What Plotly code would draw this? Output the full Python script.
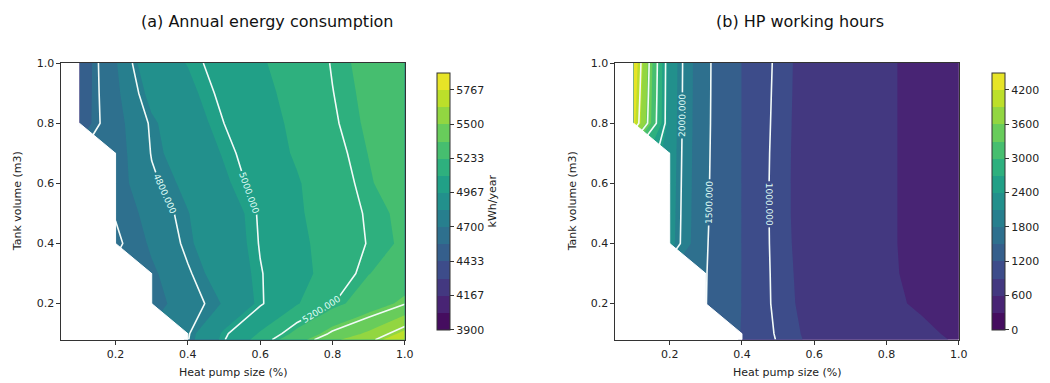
import math
import numpy as np
import plotly.graph_objects as go
from plotly.colors import sample_colorscale

# ---------------- data ----------------
heat_pump_size = [0.1, 0.2, 0.3, 0.4, 0.5, 0.6, 0.7, 0.8, 0.9, 1.0]
tank_volume = [0.08, 0.1, 0.2, 0.3, 0.4, 0.5, 0.6, 0.7, 0.8, 0.9, 1.0]

N = None
# rows follow tank_volume, columns follow heat_pump_size
energy_kwh = [
    [N, N, N, 4795, 4995, 5140, 5320, 5480, 5570, 5730],
    [N, N, N, 4790, 4985, 5110, 5260, 5420, 5520, 5665],
    [N, N, 4650, 4765, 4840, 4990, 5090, 5195, 5300, 5395],
    [N, N, 4680, 4790, 4880, 4995, 5060, 5145, 5230, 5290],
    [N, 4570, 4720, 4820, 4900, 5005, 5075, 5140, 5205, 5245],
    [N, 4610, 4750, 4830, 4910, 5010, 5085, 5150, 5210, 5250],
    [N, 4650, 4785, 4855, 4950, 5035, 5090, 5160, 5225, 5280],
    [N, 4650, 4805, 4890, 4975, 5050, 5110, 5175, 5235, 5290],
    [4520, 4660, 4815, 4920, 5000, 5060, 5120, 5190, 5245, 5300],
    [4510, 4675, 4870, 4945, 5020, 5075, 5130, 5198, 5252, 5305],
    [4500, 4690, 4927, 4970, 5040, 5090, 5140, 5205, 5260, 5310],
]

hp_hours = [
    [N, N, N, 1190, 985, 860, 770, 665, 650, 580],
    [N, N, N, 1192, 975, 855, 765, 660, 640, 560],
    [N, N, 1505, 1195, 950, 845, 750, 640, 570, 500],
    [N, N, 1510, 1195, 945, 840, 745, 630, 545, 480],
    [N, 2200, 1520, 1195, 938, 838, 742, 630, 530, 470],
    [N, 2210, 1530, 1195, 935, 835, 740, 630, 530, 470],
    [N, 2220, 1535, 1195, 935, 835, 738, 630, 530, 470],
    [N, 2230, 1540, 1195, 940, 828, 735, 630, 530, 470],
    [4300, 2240, 1545, 1195, 948, 820, 732, 630, 530, 470],
    [4380, 2245, 1548, 1195, 955, 815, 730, 630, 530, 470],
    [4450, 2250, 1550, 1195, 962, 810, 728, 630, 530, 470],
]

energy_fill_range = [3900, 5900]
energy_bands = 15
energy_line_levels = [4600, 5600, 200]
energy_ticks = [3900, 4166.67, 4433.33, 4700, 4966.67, 5233.33, 5500, 5766.67]

hours_fill_range = [0, 4500]
hours_bands = 15
hours_line_levels = [1000, 4000, 500]
hours_ticks = [0, 600, 1200, 1800, 2400, 3000, 3600, 4200]

x_ticks = [0.2, 0.4, 0.6, 0.8, 1.0]
y_ticks = [0.2, 0.4, 0.6, 0.8, 1.0]

# ---------------- helpers ----------------
W, H = 1050, 383
FONT = "DejaVu Sans"


def band_colors(n):
    # each filled band takes the colour of its mid value (levels span the map)
    return sample_colorscale("Viridis", [(k + 0.5) / n for k in range(n)])


def colorbar_scale(n):
    cols = band_colors(n)
    stops = []
    for k, c in enumerate(cols):
        stops.append([k / n, c])
        stops.append([(k + 1) / n, c])
    return stops


def mask_path(xs, ys, z):
    """White polygons covering grid cells that have missing corners."""
    Z = np.array([[np.nan if v is None else v for v in row] for row in z], float)
    px, py = [], []
    for j in range(len(ys) - 1):
        for i in range(len(xs) - 1):
            corners = [(i, j), (i + 1, j), (i + 1, j + 1), (i, j + 1)]
            bad = [math.isnan(Z[jj, ii]) for ii, jj in corners]
            nb = sum(bad)
            if nb == 0:
                continue
            if nb == 1:
                k = bad.index(True)
                pts = [corners[k], corners[(k + 1) % 4], corners[(k - 1) % 4]]
            else:
                pts = corners
            for ii, jj in pts + [pts[0]]:
                px.append(xs[ii])
                py.append(ys[jj])
            px.append(None)
            py.append(None)
    return px, py


def px2x(p):
    return p / W


def px2y(p):
    return 1 - p / H


panels = [
    dict(z=energy_kwh, rng=energy_fill_range, nb=energy_bands, lines=energy_line_levels,
         ticks=energy_ticks, ax="x", ay="y", left=62, right=409, cbx=432,
         title="(a) Annual energy consumption", title_x=270, cbtitle="kWh/year"),
    dict(z=hp_hours, rng=hours_fill_range, nb=hours_bands, lines=hours_line_levels,
         ticks=hours_ticks, ax="x2", ay="y2", left=622, right=969, cbx=992,
         title="(b) HP working hours", title_x=808, cbtitle=""),
]

TOP, BOT = 58, 339

fig = go.Figure()
annotations = []
layout_axes = {}

for n, p in enumerate(panels):
    step = (p["rng"][1] - p["rng"][0]) / p["nb"]
    cols = band_colors(p["nb"])
    # filled bands: the shaded (constraint-violating) region of "z < level"
    # is z >= level; stacked upwards so each band shows its own colour
    for k in range(p["nb"]):
        level = p["rng"][0] + k * step
        fig.add_trace(go.Contour(
            x=heat_pump_size, y=tank_volume, z=p["z"], xaxis=p["ax"], yaxis=p["ay"],
            contours=dict(type="constraint", operation="<", value=level),
            fillcolor=cols[k], line=dict(width=0, smoothing=0, color=cols[k]),
            showscale=False, hoverinfo="skip", showlegend=False,
        ))
    fig.add_trace(go.Contour(
        x=heat_pump_size, y=tank_volume, z=p["z"], xaxis=p["ax"], yaxis=p["ay"],
        contours=dict(start=p["lines"][0], end=p["lines"][1], size=p["lines"][2],
                      coloring="none", showlabels=True, labelformat=".3f",
                      labelfont=dict(family=FONT, size=9, color="#dffcf5")),
        line=dict(color="#f2fbf8", width=1.6, smoothing=0),
        showscale=False, hoverinfo="skip",
    ))
    mx, my = mask_path(heat_pump_size, tank_volume, p["z"])
    fig.add_trace(go.Scatter(
        x=mx, y=my, xaxis=p["ax"], yaxis=p["ay"], mode="lines", fill="toself",
        fillcolor="white", line=dict(color="white", width=1), hoverinfo="skip",
        showlegend=False,
    ))
    # colour bar
    fig.add_trace(go.Scatter(
        x=[None], y=[None], xaxis=p["ax"], yaxis=p["ay"], mode="markers",
        showlegend=False, hoverinfo="skip",
        marker=dict(color=[p["rng"][0]], cmin=p["rng"][0], cmax=p["rng"][1],
                    colorscale=colorbar_scale(p["nb"]), showscale=True,
                    colorbar=dict(
                        x=px2x(p["cbx"]), xanchor="left", xref="paper",
                        y=px2y(BOT), yanchor="bottom", yref="paper",
                        len=(BOT - TOP) / H, lenmode="fraction",
                        thickness=12.5, thicknessmode="pixels",
                        outlinewidth=1, outlinecolor="#333",
                        tickvals=p["ticks"], ticktext=[f"{v:.0f}" for v in p["ticks"]],
                        ticks="outside", ticklen=4, tickwidth=1, tickcolor="#333",
                        tickfont=dict(family=FONT, size=11, color="#222"),
                        title=dict(text=p["cbtitle"], side="right",
                                   font=dict(family=FONT, size=11, color="#222")),
                    )),
    ))

    axis_common = dict(showline=True, mirror=True, linecolor="#333", linewidth=1,
                       ticks="outside", ticklen=4, tickwidth=1, tickcolor="#333",
                       showgrid=False, zeroline=False, layer="above traces",
                       tickfont=dict(family=FONT, size=11, color="#222"))
    xname = "xaxis" if n == 0 else "xaxis2"
    yname = "yaxis" if n == 0 else "yaxis2"
    layout_axes[xname] = dict(axis_common, domain=[px2x(p["left"]), px2x(p["right"])],
                              range=[0.05, 1.0], tickvals=x_ticks, tickformat=".1f",
                              anchor=p["ay"])
    layout_axes[yname] = dict(axis_common, domain=[px2y(BOT), px2y(TOP)],
                              range=[0.08, 1.0], tickvals=y_ticks, tickformat=".1f",
                              anchor=p["ax"])

    annotations.append(dict(text=p["title"], x=px2x(p["title_x"]), y=px2y(16),
                            xref="paper", yref="paper", showarrow=False,
                            xanchor="center", yanchor="middle",
                            font=dict(family=FONT, size=16, color="#111")))
    annotations.append(dict(text="Heat pump size (%)",
                            x=px2x((p["left"] + p["right"]) / 2), y=px2y(372),
                            xref="paper", yref="paper", showarrow=False,
                            xanchor="center", yanchor="middle",
                            font=dict(family=FONT, size=11, color="#222")))
    annotations.append(dict(text="Tank volume (m3)", x=px2x(p["left"] - 44),
                            y=px2y((TOP + BOT) / 2), xref="paper", yref="paper",
                            showarrow=False, textangle=-90,
                            xanchor="center", yanchor="middle",
                            font=dict(family=FONT, size=11, color="#222")))

fig.update_layout(
    width=W, height=H, margin=dict(l=0, r=0, t=0, b=0),
    paper_bgcolor="white", plot_bgcolor="white", showlegend=False,
    annotations=annotations, **layout_axes,
)

fig.write_html("out.html", config={"displayModeBar": False},
               post_script="document.body.style.margin='0px';"
                           "document.body.style.overflow='hidden';")
